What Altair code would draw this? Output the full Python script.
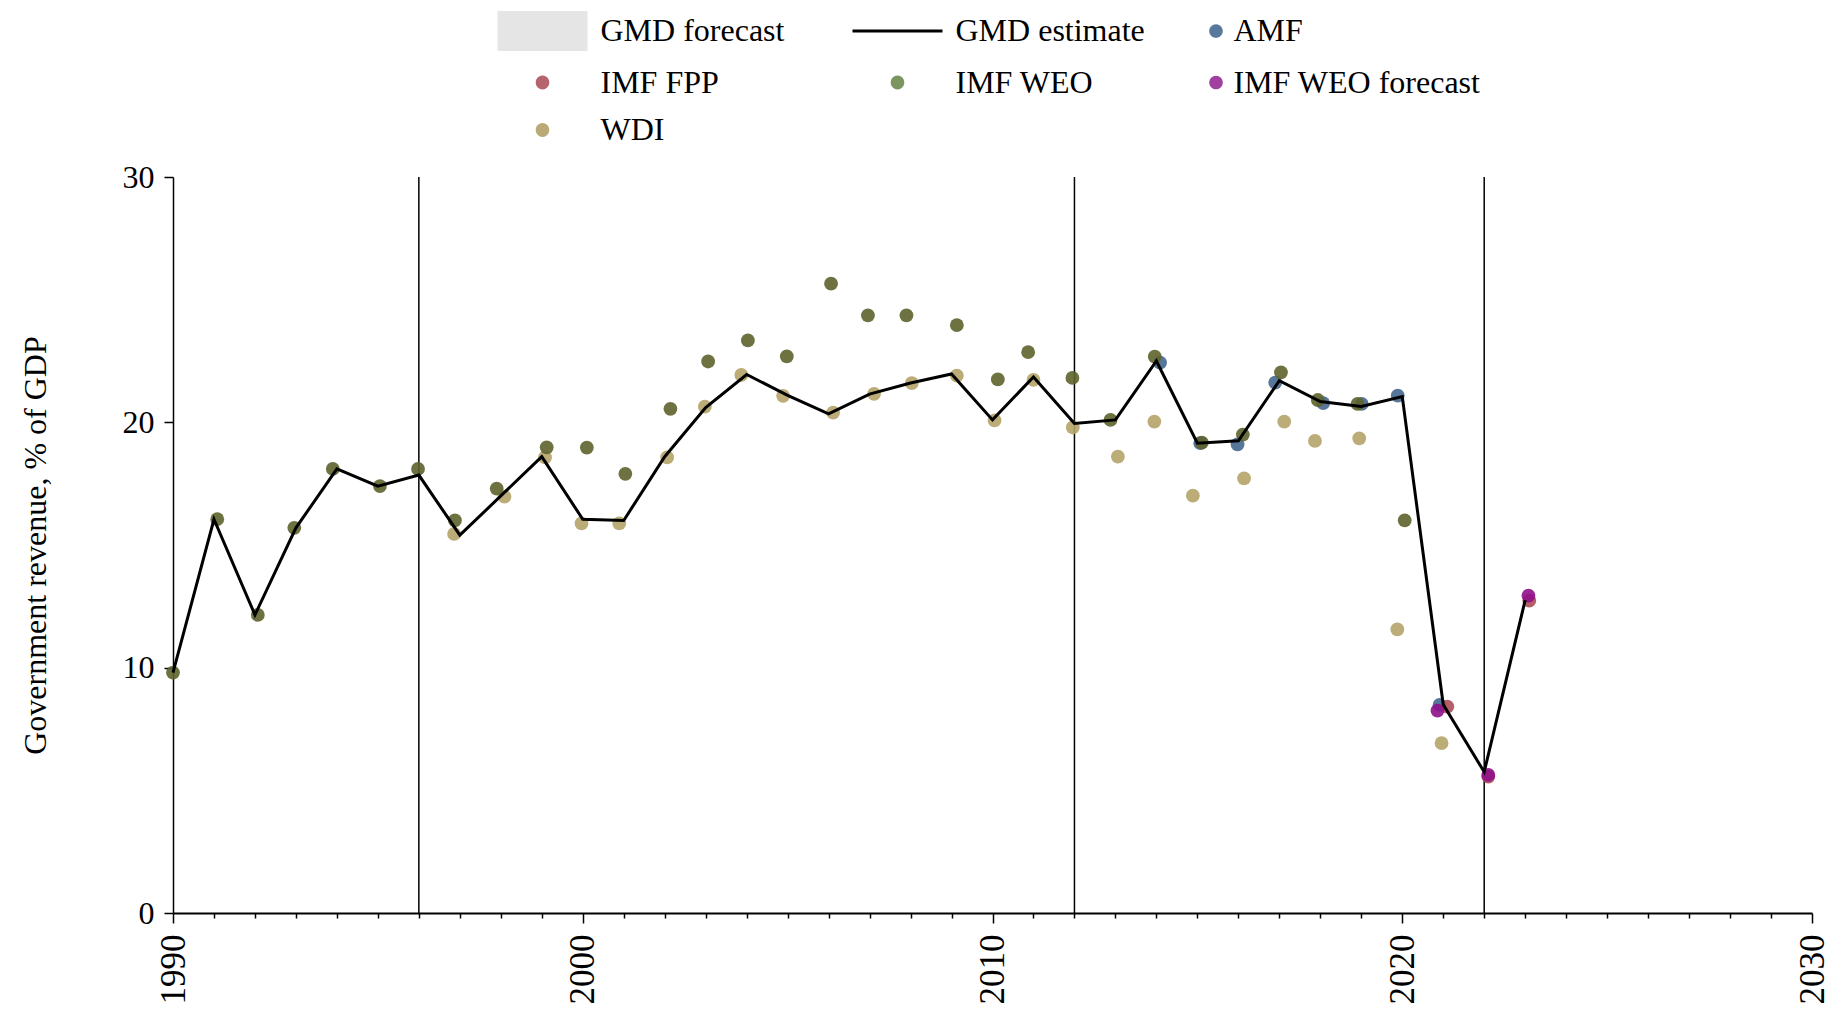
import altair as alt
import pandas as pd

# ---------------- data ----------------
est_years = list(range(1990, 2024))
est_values = [9.8, 16.05, 12.15, 15.7, 18.1, 17.4, 17.85, 15.4, 17.0, 18.6,
              16.05, 16.0, 18.6, 20.6, 21.95, 21.1, 20.35, 21.15, 21.6, 21.97,
              20.1, 21.85, 19.95, 20.1, 22.5, 19.15, 19.25, 21.7, 20.85, 20.65,
              21.05, 8.5, 5.75, 12.75]

wdi_years = [1996.86, 1998.09, 1999.08, 1999.97, 2000.89, 2002.06, 2002.98, 2003.87,
             2004.89, 2006.11, 2007.11, 2008.03, 2009.13, 2010.05, 2011.0, 2011.96,
             2013.06, 2013.95, 2014.89, 2016.14, 2017.12, 2017.87, 2018.95, 2019.88,
             2020.96]
wdi_values = [15.45, 16.97, 18.57, 15.88, 15.88, 18.57, 20.64, 21.93,
              21.08, 20.4, 21.16, 21.6, 21.9, 20.08, 21.73, 19.79,
              18.6, 20.03, 17.01, 17.72, 20.03, 19.24, 19.35, 11.56,
              6.92]

amf_years = [2014.09, 2015.07, 2015.98, 2016.9, 2018.07, 2019.01, 2019.89, 2020.91]
amf_values = [22.43, 19.15, 19.1, 21.62, 20.78, 20.75, 21.09, 8.48]

fpp_years = [2021.1, 2022.1, 2023.1]
fpp_values = [8.41, 5.56, 12.73]

weo_years = [1990.0, 1991.08, 1992.07, 1992.96, 1993.9, 1995.05, 1995.98, 1996.88,
             1997.9, 1999.12, 2000.1, 2001.04, 2002.14, 2003.06, 2004.03, 2004.98,
             2006.06, 2006.96, 2007.9, 2009.13, 2010.13, 2010.87, 2011.95, 2012.88,
             2013.96, 2015.11, 2016.11, 2017.04, 2017.94, 2018.91, 2020.06]
weo_values = [9.8, 16.05, 12.15, 15.7, 18.1, 17.4, 18.1, 16.0,
              17.3, 18.98, 18.97, 17.9, 20.55, 22.48, 23.34, 22.69,
              25.65, 24.36, 24.36, 23.96, 21.75, 22.86, 21.81, 20.1,
              22.68, 19.17, 19.5, 22.04, 20.91, 20.75, 16.0]

weofc_years = [2020.86, 2022.1, 2023.08]
weofc_values = [8.25, 5.63, 12.94]

vline_years = [1996, 2012, 2022]

series_names = ["GMD forecast", "GMD estimate", "AMF", "IMF FPP",
                "IMF WEO", "IMF WEO forecast", "WDI"]
mark_colors = ["#e5e5e5", "#000000", "#44678f", "#ac4d58",
               "#5e632c", "#90108a", "#b4a369"]
legend_colors = ["#e5e5e5", "#000000", "#58799b", "#b5646e",
                 "#7b955f", "#a040a0", "#b9aa78"]

# ---------------- tables ----------------
est_df = pd.DataFrame({"year": est_years, "value": est_values})

point_frames = []
for name, xs, ys in [("WDI", wdi_years, wdi_values),
                     ("AMF", amf_years, amf_values),
                     ("IMF FPP", fpp_years, fpp_values),
                     ("IMF WEO", weo_years, weo_values),
                     ("IMF WEO forecast", weofc_years, weofc_values)]:
    point_frames.append(pd.DataFrame({"year": xs, "value": ys, "series": name}))
points_df = pd.concat(point_frames, ignore_index=True)
points_df["order"] = range(len(points_df))

vline_df = pd.DataFrame({"year": vline_years})

# legend-only rows (no position -> not drawn, only feed the legend)
legend_df = pd.DataFrame({"series": series_names,
                          "year": [None] * len(series_names),
                          "value": [None] * len(series_names)})

# ---------------- styling ----------------
FONT = "Liberation Serif"
U = 16.0  # legend symbol unit in px (sqrt(symbolSize) / 2)


def pt(x_px, y_px):
    # zero-area marker: invisible, only widens the symbol's layout box
    return f"M{x_px / U:.4f},{y_px / U:.4f}L{x_px / U:.4f},{y_px / U:.4f}"


def circle_path(cx_px, r_px):
    cx, r = cx_px / U, r_px / U
    return (f"M{cx + r:.4f},0A{r:.4f},{r:.4f},0,1,1,{cx - r:.4f},0"
            f"A{r:.4f},{r:.4f},0,1,1,{cx + r:.4f},0Z")


def rect_path(cx_px, w_px, h_px):
    x0, x1 = (cx_px - w_px / 2) / U, (cx_px + w_px / 2) / U
    y0, y1 = -h_px / 2 / U, h_px / 2 / U
    return f"M{x0:.4f},{y0:.4f}L{x1:.4f},{y0:.4f}L{x1:.4f},{y1:.4f}L{x0:.4f},{y1:.4f}Z"


SHIFT = -40.5   # symbol centre offset for the wide-key columns
DOT_R = 6.8
COL2_EXTRA = 12  # extra layout room on the left of column 2
shape_range = [
    rect_path(SHIFT, 90, 40),                                        # GMD forecast
    rect_path(SHIFT, 90, 3.2) + pt(SHIFT - 45 - COL2_EXTRA, -20)
    + pt(SHIFT - 45 - COL2_EXTRA, 20),                               # GMD estimate
    circle_path(0, DOT_R) + pt(0, -20) + pt(0, 20),                  # AMF
    circle_path(SHIFT, DOT_R),                                       # IMF FPP
    circle_path(SHIFT, DOT_R),                                       # IMF WEO
    circle_path(0, DOT_R),                                           # IMF WEO forecast
    circle_path(SHIFT, DOT_R),                                       # WDI
]

x_scale = alt.Scale(domain=[1990, 2030], nice=False, zero=False)
y_scale = alt.Scale(domain=[0, 30], nice=False, zero=True)

x_axis = alt.Axis(
    title=None,
    values=list(range(1990, 2031)),
    format="d",
    labelExpr="datum.value % 10 === 0 ? datum.label : ''",
    labelAngle=270,
    labelFont=FONT,
    labelFontSize=35,
    labelColor="black",
    labelPadding=11,
    labelOverlap=False,
    tickSize={"condition": {"test": "datum.value % 10 === 0", "value": 10}, "value": 5},
    tickColor="black",
    tickWidth=1.5,
    domainColor="black",
    domainWidth=2,
    grid=False,
)

y_axis = alt.Axis(
    title="Government revenue, % of GDP",
    titleFont=FONT,
    titleFontSize=32,
    titleFontWeight="normal",
    titleColor="black",
    titleAngle=270,
    titleAlign="center",
    titleBaseline="middle",
    titleX=-138,
    titleY=368,
    values=[0, 10, 20, 30],
    labelFont=FONT,
    labelFontSize=32,
    labelColor="black",
    labelPadding=10,
    tickSize=9,
    tickColor="black",
    tickWidth=1.5,
    domainColor="black",
    domainWidth=1.5,
    grid=False,
)

legend = alt.Legend(
    title=None,
    orient="none",
    legendX=394,
    legendY=-162,
    direction="horizontal",
    columns=3,
    columnPadding=67 - COL2_EXTRA,
    rowPadding=15.5,
    padding=0,
    symbolSize=1024,
    symbolStrokeWidth=0,
    symbolOpacity=1,
    labelFont=FONT,
    labelFontSize=32,
    labelColor="black",
    labelOffset=1.5,
    labelLimit=600,
)

rules = alt.Chart(vline_df).mark_rule(color="black", strokeWidth=1.5).encode(
    x=alt.X("year:Q", scale=x_scale, axis=x_axis),
)

legend_layer = alt.Chart(legend_df).mark_point(filled=True, size=1024, opacity=1).encode(
    x=alt.X("year:Q", scale=x_scale, axis=x_axis),
    y=alt.Y("value:Q", scale=y_scale, axis=y_axis),
    color=alt.Color("series:N", scale=alt.Scale(domain=series_names, range=legend_colors), legend=legend),
    shape=alt.Shape("series:N", scale=alt.Scale(domain=series_names, range=shape_range), legend=legend),
)

points = alt.Chart(points_df).mark_circle(size=190, opacity=0.9).encode(
    x=alt.X("year:Q", scale=x_scale, axis=x_axis),
    y=alt.Y("value:Q", scale=y_scale, axis=y_axis),
    fill=alt.Fill("series:N", scale=alt.Scale(domain=series_names, range=mark_colors), legend=None),
    order=alt.Order("order:Q"),
)

line = alt.Chart(est_df).mark_line(color="black", strokeWidth=3).encode(
    x=alt.X("year:Q", scale=x_scale, axis=x_axis),
    y=alt.Y("value:Q", scale=y_scale, axis=y_axis),
)

chart = alt.layer(rules, legend_layer, points, line).properties(
    width=1639,
    height=736,
    autosize=alt.AutoSizeParams(type="none"),
    padding={"left": 165, "top": 169, "right": 17, "bottom": 90},
    background="white",
).configure(font=FONT).configure_view(strokeWidth=0)

chart.save("out.html", embed_options={"renderer": "svg", "actions": False})
